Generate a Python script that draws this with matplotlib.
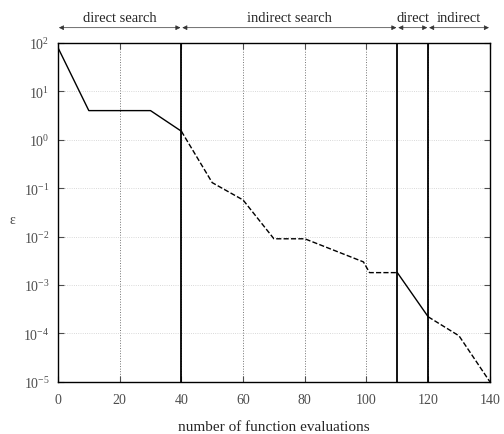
import numpy as np
import matplotlib.pyplot as plt

plt.rcParams['font.family'] = ['Liberation Serif', 'DejaVu Serif']

# direct search phases (solid) and indirect phases (dashed)
direct1_x = [0, 10, 30, 40]
direct1_y = [80, 4.0, 4.0, 1.5]
indirect1_x = [40, 50, 60, 70, 80, 99, 101, 110]
indirect1_y = [1.5, 0.13, 0.057, 0.009, 0.009, 0.003, 0.0018, 0.0018]
direct2_x = [110, 120]
direct2_y = [0.0018, 0.00022]
indirect2_x = [120, 130, 140]
indirect2_y = [0.00022, 0.000089, 0.00001]

phase_edges = [40, 110, 120]
phase_spans = [(0, 40, 'direct search'), (40, 110, 'indirect search'),
               (110, 120, 'direct'), (120, 140, 'indirect')]

fig = plt.figure(figsize=(5.04, 4.35), dpi=100)
ax = fig.add_axes([0.115, 0.12, 0.857, 0.779])

ax.semilogy(direct1_x, direct1_y, 'k-', lw=1.0)
ax.semilogy(indirect1_x, indirect1_y, 'k--', lw=1.0)
ax.semilogy(direct2_x, direct2_y, 'k-', lw=1.0)
ax.semilogy(indirect2_x, indirect2_y, 'k--', lw=1.0)

for xe in phase_edges:
    ax.axvline(xe, color='k', lw=1.3)

ax.set_xlim(0, 140)
ax.set_ylim(1e-5, 1e2)
ax.set_xticks(np.arange(0, 141, 20))
ax.set_yticks([10.0 ** k for k in range(-5, 3)])
ax.minorticks_off()
ax.xaxis.grid(True, color='0.45', ls=':', lw=0.7)
ax.yaxis.grid(True, color='0.8', ls=':', lw=0.6)
ax.tick_params(direction='in', top=True, right=True, labelsize=10, colors='0.3',
               length=4)
ax.tick_params(axis='x', pad=8)
ax.tick_params(axis='y', pad=6)
for s in ax.spines.values():
    s.set_linewidth(1.0)

ax.set_xlabel('number of function evaluations', fontsize=11, color='0.15',
              labelpad=10)
ax.set_ylabel('ε', fontsize=10, rotation=0, color='0.3', ha='center', va='center')
ax.yaxis.set_label_coords(-0.105, 0.48)

# phase arrows above the axes
for x0, x1, label in phase_spans:
    ax.annotate('', xy=(x0 + 0.3, 1.0 + 0.045), xytext=(x1 - 0.3, 1.0 + 0.045),
                xycoords=('data', 'axes fraction'),
                textcoords=('data', 'axes fraction'),
                arrowprops=dict(arrowstyle='<|-|>', color='0.2', lw=0.5,
                                mutation_scale=7, shrinkA=0, shrinkB=0),
                annotation_clip=False)
    ax.text((x0 + x1) / 2, 1.075, label, transform=ax.get_xaxis_transform(),
            ha='center', va='center', fontsize=10.5, color='0.15',
            bbox=dict(facecolor='white', edgecolor='none', pad=0.5))

fig.savefig('out.png', dpi=100)
